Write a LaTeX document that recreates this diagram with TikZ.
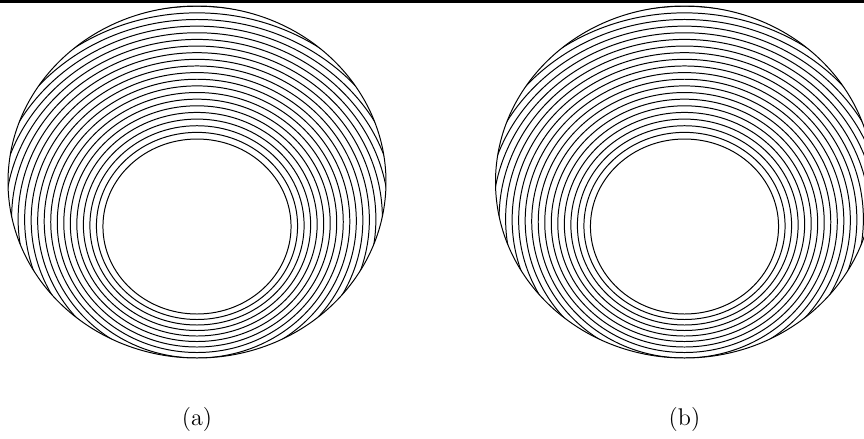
\documentclass[tikz,border=0pt]{standalone}
\usepackage{tikz}
\usetikzlibrary{positioning}

\tikzset{
    ring/.style={draw=black, line width=0.45pt},
    capt/.style={inner sep=0pt, font=\fontsize{11}{13}\selectfont}
}

\begin{document}
\begin{tikzpicture}[x=0.016cm, y=-0.016cm]
    % Cadru
    \useasboundingbox (0,0) rectangle (864,438);
    \clip (0,0) rectangle (864,438);
    \draw[line width=1.8pt] (0,1.5) -- (864,1.5);

    % Discuri (a) si (b)
    \foreach \cx in {197,684.5} {
        % conturul discului
        \draw[ring] (\cx,182) ellipse [x radius=189, y radius=176];
        % cercurile, taiate de disc
        \begin{scope}
            \clip (\cx,182) ellipse [x radius=189, y radius=176];
            \foreach \k in {0,...,20} {
                \draw[ring] (\cx, {226.5-0.57*\k}) ellipse [x radius={1.075*(87.5+6.07*\k)}, y radius={87.5+6.07*\k}];
            }
        \end{scope}
    }

    % Etichete
    \node[capt] (la) at (197,419) {(a)};
    \node[capt] (lb) at (684.5,419) {(b)};
\end{tikzpicture}
\end{document}
